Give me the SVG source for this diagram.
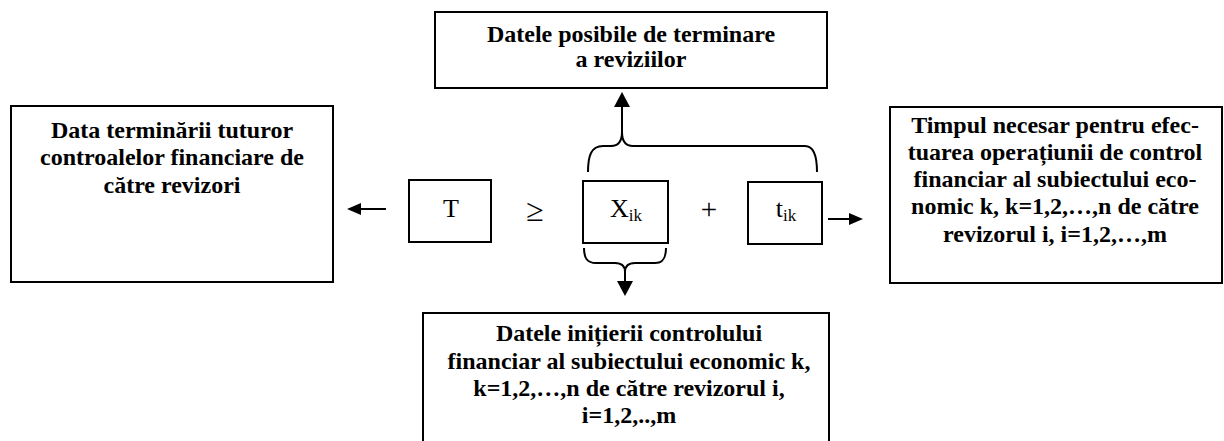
<svg xmlns="http://www.w3.org/2000/svg" width="1224" height="441" viewBox="0 0 1224 441">
<style>
.box{fill:#fff;stroke:#000;stroke-width:2}
.t{font-family:"Liberation Serif","Times New Roman",serif;font-weight:bold;font-size:24px;fill:#000;text-anchor:middle}
.m{font-family:"Liberation Serif","Times New Roman",serif;font-size:26px;fill:#000;text-anchor:middle}
.sub{font-size:17px}
.ln{fill:none;stroke:#000;stroke-width:2}
</style>
<rect width="1224" height="441" fill="#fff"/>
<g id="node-top">
<rect class="box" x="435" y="12" width="392" height="76"/>
<text class="t" x="631" y="42">Datele posibile de terminare</text>
<text class="t" x="631" y="67">a reviziilor</text>
</g>
<g id="node-left">
<rect class="box" x="11" y="106" width="322" height="176"/>
<text class="t" x="172" y="138">Data terminării tuturor</text>
<text class="t" x="172" y="165">controalelor financiare de</text>
<text class="t" x="172" y="193">către revizori</text>
</g>
<g id="node-right">
<rect class="box" x="890" y="107" width="332" height="176"/>
<text class="t" x="1055" y="133">Timpul necesar pentru efec-</text>
<text class="t" x="1055" y="160">tuarea operațiunii de control</text>
<text class="t" x="1055" y="187">financiar al subiectului eco-</text>
<text class="t" x="1055" y="214">nomic k, k=1,2,…,n de către</text>
<text class="t" x="1055" y="242">revizorul i, i=1,2,…,m</text>
</g>
<g id="node-bottom">
<rect class="box" x="423" y="313" width="406" height="140"/>
<text class="t" x="629" y="341">Datele inițierii controlului</text>
<text class="t" x="629" y="369">financiar al subiectului economic k,</text>
<text class="t" x="629" y="396">k=1,2,…,n de către revizorul i,</text>
<text class="t" x="629" y="423">i=1,2,..,m</text>
</g>
<g id="node-T">
<rect class="box" x="409" y="180" width="82" height="62"/>
<text class="m" x="451" y="217">T</text>
</g>
<g id="op-ge">
<text class="m" x="535" y="221" style="font-size:32px">≥</text>
</g>
<g id="node-X">
<rect class="box" x="583" y="181" width="85" height="62"/>
<text class="m" x="626" y="217">X<tspan class="sub" dy="4">ik</tspan></text>
</g>
<g id="op-plus">
<text class="m" x="709" y="219" style="font-size:29px">+</text>
</g>
<g id="node-t">
<rect class="box" x="748" y="182" width="74" height="62"/>
<text class="m" x="786" y="217">t<tspan class="sub" dy="4">ik</tspan></text>
</g>
<g id="connectors">
<path class="ln" d="M588,172 C588,156 591,146 603,146 L611,146 C618,146 622,142 622,132 C622,142 626,146 633,146 L805,146 C814,146 817,156 817,172"/>
<line class="ln" x1="622" y1="134" x2="622" y2="104"/>
<polygon points="622,92 614,107 630,107" fill="#000"/>
<path class="ln" d="M584,248 C584,258 587,263 596,263 L615,263 C621,263 625,266 625,272 C625,266 629,263 635,263 L655,263 C663,263 666,258 666,248"/>
<line class="ln" x1="625" y1="271" x2="625" y2="283"/>
<polygon points="625,296 617,281 633,281" fill="#000"/>
<line class="ln" x1="386" y1="209" x2="358" y2="209"/>
<polygon points="347,209 361,203 361,215" fill="#000"/>
<line class="ln" x1="828" y1="219" x2="852" y2="219"/>
<polygon points="863,219 849,213 849,225" fill="#000"/>
</g>
</svg>
